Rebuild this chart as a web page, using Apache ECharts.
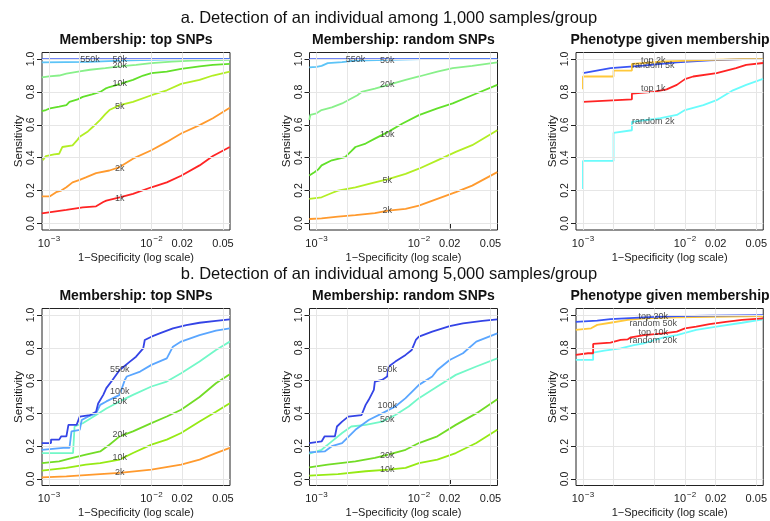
<!DOCTYPE html>
<html><head><meta charset="utf-8">
<script src="https://cdn.jsdelivr.net/npm/echarts@6/dist/echarts.min.js"></script>
<style>html,body{margin:0;padding:0;background:#fff}#c{width:770px;height:521px}</style>
</head><body><div id="c"></div><script>
// x values below are log10(1 - specificity); y values are sensitivity
const xTickValues = [0.001, 0.01, 0.02, 0.05];
const xTickLabels = ['10^-3', '10^-2', '0.02', '0.05'];
const xGridValues = [0.001, 0.002, 0.005, 0.01, 0.02, 0.05];
const yTickValues = [0, 0.2, 0.4, 0.6, 0.8, 1.0];

// a. 1,000 samples/group — Membership: top SNPs
const a1_550k = [[-3.07,1.0],[-1.235,1.0]];
const a1_50k = [[-3.07,0.98],[-2.6,0.983],[-2.3,0.99],[-2.0,0.996],[-1.7,1.0],[-1.235,1.0]];
const a1_20k = [[-3.07,0.889],[-3.0,0.895],[-2.9,0.9],[-2.83,0.912],[-2.7,0.925],[-2.6,0.935],[-2.45,0.945],[-2.31,0.955],[-2.15,0.965],[-2.0,0.975],[-1.8,0.985],[-1.6,0.99],[-1.235,0.996]];
const a1_10k = [[-3.07,0.684],[-3.03,0.69],[-2.99,0.70],[-2.9,0.71],[-2.83,0.72],[-2.80,0.74],[-2.72,0.755],[-2.67,0.77],[-2.58,0.785],[-2.50,0.80],[-2.45,0.82],[-2.41,0.83],[-2.31,0.847],[-2.25,0.86],[-2.18,0.873],[-2.08,0.9],[-2.0,0.914],[-1.85,0.924],[-1.71,0.94],[-1.53,0.955],[-1.40,0.965],[-1.235,0.971]];
const a1_5k = [[-3.06,0.384],[-3.03,0.41],[-2.95,0.42],[-2.90,0.424],[-2.87,0.465],[-2.77,0.475],[-2.72,0.51],[-2.70,0.527],[-2.62,0.56],[-2.57,0.588],[-2.50,0.63],[-2.45,0.665],[-2.41,0.69],[-2.31,0.72],[-2.18,0.74],[-2.0,0.78],[-1.85,0.81],[-1.71,0.849],[-1.53,0.873],[-1.40,0.9],[-1.235,0.924]];
const a1_2k = [[-3.07,0.165],[-2.99,0.165],[-2.93,0.19],[-2.88,0.20],[-2.83,0.22],[-2.77,0.25],[-2.70,0.265],[-2.64,0.28],[-2.54,0.306],[-2.41,0.322],[-2.31,0.343],[-2.18,0.394],[-2.0,0.445],[-1.85,0.496],[-1.71,0.547],[-1.53,0.598],[-1.40,0.64],[-1.235,0.704]];
const a1_1k = [[-3.07,0.061],[-2.83,0.082],[-2.67,0.098],[-2.54,0.104],[-2.47,0.13],[-2.44,0.139],[-2.31,0.159],[-2.18,0.18],[-2.0,0.22],[-1.85,0.25],[-1.71,0.29],[-1.53,0.353],[-1.40,0.41],[-1.235,0.465]];
const a1_labels = [[-2.6,1.0,'550k'],[-2.31,0.998,'50k'],[-2.31,0.96,'20k'],[-2.31,0.85,'10k'],[-2.31,0.71,'5k'],[-2.31,0.337,'2k'],[-2.31,0.149,'1k']];

// a. Membership: random SNPs
const a2_550k = [[-3.07,1.0],[-1.235,1.0]];
const a2_50k = [[-3.07,0.949],[-3.0,0.952],[-2.95,0.959],[-2.89,0.975],[-2.75,0.982],[-2.62,0.99],[-2.30,0.996],[-1.97,1.0],[-1.235,1.0]];
const a2_20k = [[-3.07,0.63],[-3.06,0.66],[-3.0,0.67],[-2.95,0.69],[-2.85,0.706],[-2.75,0.73],[-2.66,0.76],[-2.60,0.78],[-2.56,0.80],[-2.43,0.82],[-2.30,0.843],[-2.13,0.873],[-2.0,0.894],[-1.82,0.924],[-1.67,0.945],[-1.48,0.959],[-1.235,0.98]];
const a2_10k = [[-3.07,0.292],[-3.02,0.312],[-2.98,0.33],[-2.95,0.353],[-2.85,0.384],[-2.72,0.404],[-2.66,0.44],[-2.62,0.465],[-2.52,0.486],[-2.43,0.516],[-2.30,0.557],[-2.16,0.608],[-2.0,0.659],[-1.82,0.70],[-1.67,0.73],[-1.48,0.78],[-1.235,0.843]];
const a2_5k = [[-3.07,0.149],[-2.95,0.159],[-2.85,0.185],[-2.79,0.2],[-2.62,0.22],[-2.43,0.25],[-2.30,0.27],[-2.13,0.302],[-2.0,0.333],[-1.82,0.384],[-1.64,0.435],[-1.48,0.476],[-1.235,0.567]];
const a2_2k = [[-3.07,0.027],[-2.95,0.031],[-2.79,0.041],[-2.62,0.051],[-2.43,0.063],[-2.30,0.078],[-2.13,0.088],[-2.0,0.108],[-1.82,0.149],[-1.64,0.19],[-1.48,0.23],[-1.235,0.312]];
const a2_labels = [[-2.62,1.0,'550k'],[-2.31,0.99,'50k'],[-2.31,0.843,'20k'],[-2.31,0.54,'10k'],[-2.31,0.26,'5k'],[-2.31,0.078,'2k']];

// a. Phenotype given membership
const a3_top2k = [[-3.0,0.816],[-3.0,0.894],[-2.70,0.894],[-2.70,0.93],[-2.52,0.93],[-2.52,0.97],[-2.24,0.984],[-1.76,0.995],[-1.43,1.0],[-1.235,1.0]];
const a3_rand5k = [[-3.0,0.915],[-3.0,0.925],[-2.73,0.945],[-2.41,0.96],[-2.08,0.98],[-1.76,0.992],[-1.43,1.0],[-1.235,1.0]];
const a3_top1k = [[-3.0,0.74],[-2.52,0.755],[-2.52,0.79],[-2.31,0.80],[-2.18,0.816],[-2.08,0.843],[-2.0,0.878],[-1.92,0.894],[-1.69,0.914],[-1.50,0.945],[-1.40,0.965],[-1.235,0.976]];
const a3_rand2k = [[-3.0,0.21],[-3.0,0.38],[-2.70,0.38],[-2.70,0.551],[-2.52,0.567],[-2.52,0.618],[-2.24,0.64],[-2.08,0.66],[-2.0,0.69],[-1.82,0.72],[-1.69,0.75],[-1.53,0.81],[-1.40,0.843],[-1.235,0.88]];
const a3_labels = [[-2.31,0.99,'top 2k'],[-2.31,0.961,'random 5k'],[-2.31,0.818,'top 1k'],[-2.31,0.618,'random 2k']];

// b. 5,000 samples/group — Membership: top SNPs
const b1_550k = [[-3.07,0.219],[-2.98,0.219],[-2.98,0.24],[-2.90,0.24],[-2.88,0.26],[-2.83,0.26],[-2.81,0.33],[-2.73,0.33],[-2.70,0.38],[-2.60,0.39],[-2.54,0.41],[-2.52,0.46],[-2.47,0.513],[-2.44,0.554],[-2.38,0.604],[-2.31,0.665],[-2.21,0.716],[-2.15,0.746],[-2.08,0.797],[-2.065,0.848],[-2.0,0.868],[-1.92,0.888],[-1.79,0.919],[-1.66,0.939],[-1.53,0.953],[-1.37,0.965],[-1.235,0.974]];
const b1_100k = [[-3.07,0.178],[-2.86,0.189],[-2.80,0.189],[-2.78,0.29],[-2.70,0.30],[-2.68,0.36],[-2.62,0.38],[-2.54,0.40],[-2.50,0.452],[-2.44,0.473],[-2.31,0.513],[-2.26,0.604],[-2.24,0.625],[-2.11,0.655],[-2.0,0.696],[-1.85,0.736],[-1.79,0.807],[-1.71,0.838],[-1.53,0.878],[-1.37,0.905],[-1.235,0.919]];
const b1_50k = [[-3.07,0.158],[-2.765,0.158],[-2.75,0.32],[-2.67,0.34],[-2.54,0.39],[-2.44,0.43],[-2.31,0.473],[-2.18,0.513],[-2.0,0.564],[-1.85,0.594],[-1.71,0.645],[-1.53,0.716],[-1.37,0.787],[-1.235,0.838]];
const b1_20k = [[-3.07,0.097],[-2.90,0.107],[-2.77,0.128],[-2.64,0.148],[-2.50,0.168],[-2.41,0.209],[-2.31,0.26],[-2.18,0.29],[-2.0,0.341],[-1.85,0.381],[-1.71,0.422],[-1.53,0.50],[-1.37,0.584],[-1.235,0.639]];
const b1_10k = [[-3.07,0.051],[-2.83,0.067],[-2.64,0.087],[-2.50,0.097],[-2.31,0.118],[-2.18,0.158],[-2.0,0.209],[-1.85,0.24],[-1.71,0.28],[-1.53,0.35],[-1.37,0.41],[-1.235,0.462]];
const b1_2k = [[-3.07,0.01],[-2.83,0.016],[-2.50,0.03],[-2.31,0.037],[-2.0,0.057],[-1.71,0.087],[-1.53,0.118],[-1.37,0.158],[-1.235,0.189]];
const b1_labels = [[-2.31,0.665,'550k'],[-2.31,0.533,'100k'],[-2.31,0.473,'50k'],[-2.31,0.27,'20k'],[-2.31,0.132,'10k'],[-2.31,0.037,'2k']];

// b. Membership: random SNPs
const b2_550k = [[-3.07,0.219],[-2.95,0.229],[-2.92,0.26],[-2.82,0.26],[-2.80,0.32],[-2.75,0.35],[-2.69,0.38],[-2.56,0.39],[-2.52,0.452],[-2.49,0.483],[-2.44,0.544],[-2.43,0.594],[-2.36,0.604],[-2.31,0.625],[-2.295,0.686],[-2.23,0.716],[-2.13,0.757],[-2.07,0.787],[-2.03,0.848],[-2.0,0.868],[-1.87,0.899],[-1.70,0.933],[-1.57,0.949],[-1.38,0.965],[-1.235,0.974]];
const b2_100k = [[-3.07,0.162],[-2.92,0.168],[-2.85,0.2],[-2.75,0.219],[-2.62,0.30],[-2.49,0.36],[-2.36,0.40],[-2.23,0.442],[-2.13,0.493],[-2.0,0.574],[-1.87,0.625],[-1.82,0.665],[-1.70,0.726],[-1.57,0.767],[-1.44,0.838],[-1.235,0.888]];
const b2_50k = [[-3.07,0.154],[-2.95,0.178],[-2.85,0.229],[-2.75,0.28],[-2.66,0.32],[-2.52,0.33],[-2.36,0.35],[-2.23,0.39],[-2.10,0.442],[-2.0,0.493],[-1.82,0.564],[-1.64,0.635],[-1.44,0.686],[-1.235,0.736]];
const b2_20k = [[-3.07,0.071],[-2.89,0.087],[-2.62,0.107],[-2.43,0.128],[-2.30,0.148],[-2.13,0.178],[-2.0,0.219],[-1.82,0.26],[-1.64,0.33],[-1.44,0.40],[-1.235,0.487]];
const b2_10k = [[-3.07,0.02],[-2.79,0.03],[-2.52,0.047],[-2.30,0.057],[-2.13,0.067],[-2.0,0.097],[-1.82,0.118],[-1.64,0.158],[-1.44,0.219],[-1.235,0.30]];
const b2_labels = [[-2.31,0.669,'550k'],[-2.31,0.446,'100k'],[-2.31,0.365,'50k'],[-2.31,0.144,'20k'],[-2.31,0.057,'10k']];

// b. Phenotype given membership
const b3_top20k = [[-3.07,0.959],[-2.86,0.966],[-2.73,0.975],[-2.40,0.986],[-2.08,0.994],[-1.76,0.997],[-1.235,1.0]];
const b3_rand50k = [[-3.07,0.909],[-2.92,0.919],[-2.86,0.94],[-2.73,0.953],[-2.56,0.97],[-2.40,0.98],[-2.08,0.986],[-1.235,0.994]];
const b3_top10k = [[-3.07,0.757],[-2.95,0.767],[-2.90,0.767],[-2.90,0.824],[-2.73,0.832],[-2.63,0.848],[-2.56,0.852],[-2.53,0.864],[-2.40,0.878],[-2.21,0.888],[-2.08,0.899],[-2.0,0.919],[-1.89,0.929],[-1.76,0.945],[-1.60,0.959],[-1.44,0.97],[-1.235,0.98]];
const b3_rand20k = [[-3.07,0.726],[-2.90,0.726],[-2.90,0.771],[-2.79,0.783],[-2.63,0.797],[-2.50,0.817],[-2.40,0.828],[-2.21,0.864],[-2.08,0.878],[-1.89,0.909],[-1.69,0.929],[-1.44,0.953],[-1.235,0.974]];
const b3_labels = [[-2.31,0.994,'top 20k'],[-2.31,0.951,'random 50k'],[-2.31,0.892,'top 10k'],[-2.31,0.844,'random 20k']];

const sectionTitles = ['a. Detection of an individual among 1,000 samples/group', 'b. Detection of an individual among 5,000 samples/group'];
const panelTitles = ['Membership: top SNPs', 'Membership: random SNPs', 'Phenotype given membership'];

// ---- styling / layout (not data) ----
const COL = {
  blueA:'#3f5cf2', skyA:'#5cc4f7', paleGreen:'#88f08a', green:'#62e02a', yellowGreen:'#b2ee24', orange:'#ff9a2e', red:'#ff2424',
  blueB:'#3444e6', skyB:'#5aa6ff', aqua:'#72f8c8', greenB:'#72dc26', ygB:'#96ea14',
  gold:'#ffc83a', blue3:'#3a55f5', cyan:'#6afcfc'
};
const panels = [
  {series:[[a1_1k,COL.red],[a1_2k,COL.orange],[a1_5k,COL.yellowGreen],[a1_10k,COL.green],[a1_20k,COL.paleGreen],[a1_50k,COL.skyA],[a1_550k,COL.blueA]], labels:a1_labels},
  {series:[[a2_2k,COL.orange],[a2_5k,COL.yellowGreen],[a2_10k,COL.green],[a2_20k,COL.paleGreen],[a2_50k,COL.skyA],[a2_550k,COL.blueA]], labels:a2_labels},
  {series:[[a3_rand2k,COL.cyan],[a3_top1k,COL.red],[a3_rand5k,COL.blue3],[a3_top2k,COL.gold]], labels:a3_labels},
  {series:[[b1_2k,COL.orange],[b1_10k,COL.ygB],[b1_20k,COL.greenB],[b1_50k,COL.aqua],[b1_100k,COL.skyB],[b1_550k,COL.blueB]], labels:b1_labels},
  {series:[[b2_10k,COL.ygB],[b2_20k,COL.greenB],[b2_50k,COL.aqua],[b2_100k,COL.skyB],[b2_550k,COL.blueB]], labels:b2_labels},
  {series:[[b3_rand20k,COL.cyan],[b3_top10k,COL.red],[b3_rand50k,COL.gold],[b3_top20k,COL.blue3]], labels:b3_labels}
];
const colLeft = [42, 309.5, 576], colW = 188;
const rowTop = [52.5, 308.5], rowH = [177.5, 177];
const X_MIN = -3.068, X_MAX = -1.233;
const TXT = '#1a1a1a';
const FONT = 'Liberation Sans, Arial, sans-serif';

const xTickLog = xTickValues.map(v => Math.log10(v));
function fmtX(v) {
  let best = 0;
  xTickLog.forEach((t, i) => { if (Math.abs(t - v) < Math.abs(xTickLog[best] - v)) best = i; });
  const s = xTickLabels[best];
  if (s.indexOf('^') >= 0) {
    const [b, e] = s.split('^');
    return '{b|' + b + '}{s|' + e.replace('-', '\u2212') + '}';
  }
  return '{b|' + s + '}';
}

const option = {animation:false, textStyle:{fontFamily:FONT}, grid:[], xAxis:[], yAxis:[], series:[], graphic:[]};

panels.forEach((p, i) => {
  const r = Math.floor(i / 3), c = i % 3;
  option.grid.push({left:colLeft[c], top:rowTop[r], width:colW, height:rowH[r], show:true, borderColor:'#222', borderWidth:1, backgroundColor:'rgba(0,0,0,0)'});
  option.xAxis.push({
    type:'value', gridIndex:i, min:X_MIN, max:X_MAX,
    axisLine:{show:false}, splitLine:{show:false},
    axisTick:{show:true, customValues:xTickLog, length:5, lineStyle:{color:'#222'}},
    axisLabel:{customValues:xTickLog, formatter:fmtX, margin:5, color:TXT,
      rich:{b:{fontSize:11, color:TXT, fontFamily:FONT, verticalAlign:'bottom', lineHeight:14},
            s:{fontSize:8, color:TXT, fontFamily:FONT, verticalAlign:'top', lineHeight:14, padding:[0,0,0,1]}}},
    name:'1\u2212Specificity (log scale)', nameLocation:'middle', nameGap:22,
    nameTextStyle:{fontSize:11, color:TXT, fontFamily:FONT}
  });
  option.yAxis.push({
    type:'value', gridIndex:i, min:-0.04, max:1.04,
    axisLine:{show:false}, splitLine:{show:false},
    axisTick:{show:true, customValues:yTickValues, length:5, lineStyle:{color:'#222'}},
    axisLabel:{customValues:yTickValues, formatter:v => v.toFixed(1), rotate:90, margin:5, fontSize:10.5, color:TXT},
    name:'Sensitivity', nameLocation:'middle', nameRotate:90, nameGap:17,
    nameTextStyle:{fontSize:11.5, color:TXT, fontFamily:FONT}
  });
  // light grid lines
  option.series.push({
    type:'line', xAxisIndex:i, yAxisIndex:i, data:[], silent:true, z:1,
    markLine:{silent:true, symbol:'none', animation:false, label:{show:false},
      lineStyle:{color:'#e6e6e6', type:'solid', width:1},
      data:[...xGridValues.map(v => ({xAxis:Math.log10(v)})), ...yTickValues.map(v => ({yAxis:v}))]}
  });
  p.series.forEach(([d, col]) => {
    option.series.push({type:'line', xAxisIndex:i, yAxisIndex:i, data:d, symbol:'none', showSymbol:false,
      lineStyle:{width:1.8, color:col}, itemStyle:{color:col}, z:3, silent:true});
  });
  option.series.push({type:'scatter', xAxisIndex:i, yAxisIndex:i, data:p.labels, symbolSize:0, z:5, silent:true,
    label:{show:true, position:'inside', formatter:q => q.data[2], fontSize:9, color:'#222', fontFamily:FONT}});
  option.graphic.push({type:'text', silent:true, x:colLeft[c] + colW / 2, y:(r === 0 ? 40 : 296.5),
    style:{text:panelTitles[c], font:'bold 14px ' + FONT, fill:'#111', textAlign:'center', textVerticalAlign:'middle'}});
});
sectionTitles.forEach((t, r) => {
  option.graphic.push({type:'text', silent:true, x:389, y:(r === 0 ? 18 : 274.5),
    style:{text:t, font:'16.5px ' + FONT, fill:'#111', textAlign:'center', textVerticalAlign:'middle'}});
});

const chart = echarts.init(document.getElementById('c'), null, {renderer:'canvas'});
chart.setOption(option);
</script></body></html>
